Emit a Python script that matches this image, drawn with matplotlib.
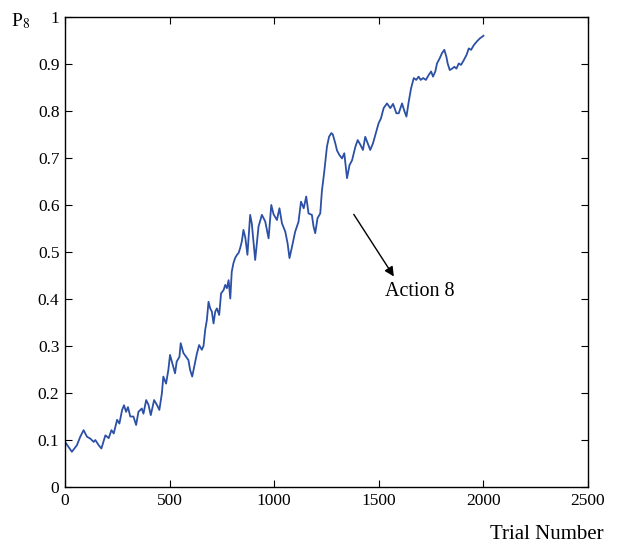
import matplotlib
matplotlib.use("Agg")
import matplotlib.pyplot as plt

plt.rcParams["font.family"] = ["Liberation Serif", "DejaVu Serif"]
plt.rcParams["mathtext.fontset"] = "stix"

# valores (tentativa -> probabilidade da ação 8)
trials = [0, 33, 57, 73, 89, 105, 121, 137, 145, 161, 174, 193, 209, 222, 233, 249, 260,
          273, 282, 292, 301, 312, 327, 340, 351, 367, 375, 388, 399, 410, 426, 439, 451,
          463, 470, 483, 494, 502, 515, 526, 534, 547, 553, 566, 579, 590, 598, 608, 622,
          630, 641, 654, 662, 670, 678, 686, 694, 702, 710, 718, 726, 737, 746, 758, 766,
          774, 782, 790, 797, 805, 813, 822, 830, 837, 845, 853, 862, 872, 885, 893, 909,
          925, 941, 957, 973, 986, 997, 1013, 1025, 1037, 1053, 1064, 1073, 1085, 1100,
          1116, 1128, 1141, 1153, 1164, 1180, 1188, 1196, 1207, 1220, 1228, 1239, 1252,
          1262, 1273, 1280, 1292, 1300, 1312, 1324, 1335, 1348, 1360, 1372, 1388, 1399,
          1412, 1424, 1435, 1447, 1459, 1472, 1488, 1499, 1510, 1523, 1539, 1555, 1568,
          1584, 1595, 1611, 1622, 1632, 1643, 1654, 1667, 1679, 1690, 1700, 1712, 1725,
          1739, 1750, 1759, 1770, 1778, 1791, 1802, 1813, 1823, 1829, 1839, 1850, 1861,
          1871, 1882, 1893, 1906, 1919, 1930, 1941, 1954, 1967, 1982, 2000]
p8 = [0.096, 0.075, 0.089, 0.107, 0.121, 0.107, 0.103, 0.096, 0.100, 0.089, 0.082, 0.110,
      0.104, 0.121, 0.114, 0.143, 0.135, 0.164, 0.174, 0.160, 0.170, 0.150, 0.150, 0.132,
      0.160, 0.167, 0.156, 0.185, 0.175, 0.153, 0.185, 0.175, 0.164, 0.199, 0.235, 0.220,
      0.249, 0.281, 0.260, 0.242, 0.267, 0.277, 0.306, 0.285, 0.277, 0.270, 0.249, 0.235,
      0.265, 0.283, 0.302, 0.292, 0.300, 0.334, 0.355, 0.394, 0.380, 0.373, 0.348, 0.373,
      0.380, 0.366, 0.412, 0.419, 0.430, 0.423, 0.440, 0.401, 0.458, 0.476, 0.487, 0.494,
      0.498, 0.508, 0.522, 0.547, 0.530, 0.494, 0.579, 0.560, 0.483, 0.554, 0.579, 0.565,
      0.529, 0.600, 0.580, 0.568, 0.593, 0.561, 0.543, 0.518, 0.487, 0.511, 0.543, 0.564,
      0.607, 0.593, 0.618, 0.582, 0.579, 0.554, 0.540, 0.572, 0.582, 0.630, 0.670, 0.724,
      0.745, 0.753, 0.750, 0.731, 0.716, 0.706, 0.699, 0.710, 0.657, 0.685, 0.695, 0.724,
      0.738, 0.728, 0.717, 0.745, 0.731, 0.717, 0.731, 0.756, 0.774, 0.784, 0.806, 0.816,
      0.806, 0.815, 0.795, 0.795, 0.816, 0.800, 0.788, 0.820, 0.848, 0.870, 0.866, 0.873,
      0.866, 0.870, 0.866, 0.877, 0.884, 0.873, 0.884, 0.901, 0.912, 0.923, 0.930, 0.915,
      0.901, 0.887, 0.890, 0.894, 0.890, 0.901, 0.898, 0.908, 0.919, 0.933, 0.930, 0.940,
      0.947, 0.954, 0.960]

x_ticks = [0, 500, 1000, 1500, 2000, 2500]
y_ticks = [0, 0.1, 0.2, 0.3, 0.4, 0.5, 0.6, 0.7, 0.8, 0.9, 1]
y_labels = ["0", "0.1", "0.2", "0.3", "0.4", "0.5", "0.6", "0.7", "0.8", "0.9", "1"]

fig = plt.figure(figsize=(6.19, 5.46), dpi=100)
ax = fig.add_axes([0.105, 0.108, 0.845, 0.861])
ax.plot(trials, p8, color="#2b50a5", lw=1.3)

ax.set_xlim(0, 2500)
ax.set_ylim(0, 1)
ax.set_xticks(x_ticks)
ax.set_xticklabels([str(t) for t in x_ticks])
ax.set_yticks(y_ticks)
ax.set_yticklabels(y_labels)
ax.tick_params(direction="in", top=True, right=True, length=5, labelsize=12.5, pad=4)
for s in ax.spines.values():
    s.set_linewidth(1.0)

ax.text(-0.085, 0.99, r"P$_8$", transform=ax.transAxes, ha="center", va="center", fontsize=14)
ax.text(1.03, -0.10, "Trial Number", transform=ax.transAxes, ha="right", va="center", fontsize=15)

# seta da anotação
ax.annotate("", xy=(1579, 0.443), xytext=(1373, 0.585),
            arrowprops=dict(arrowstyle="-|>", color="black", lw=1.0, mutation_scale=14))
ax.text(1531, 0.415, "Action 8", ha="left", va="center", fontsize=14.5)

fig.savefig("out.png", dpi=100)
